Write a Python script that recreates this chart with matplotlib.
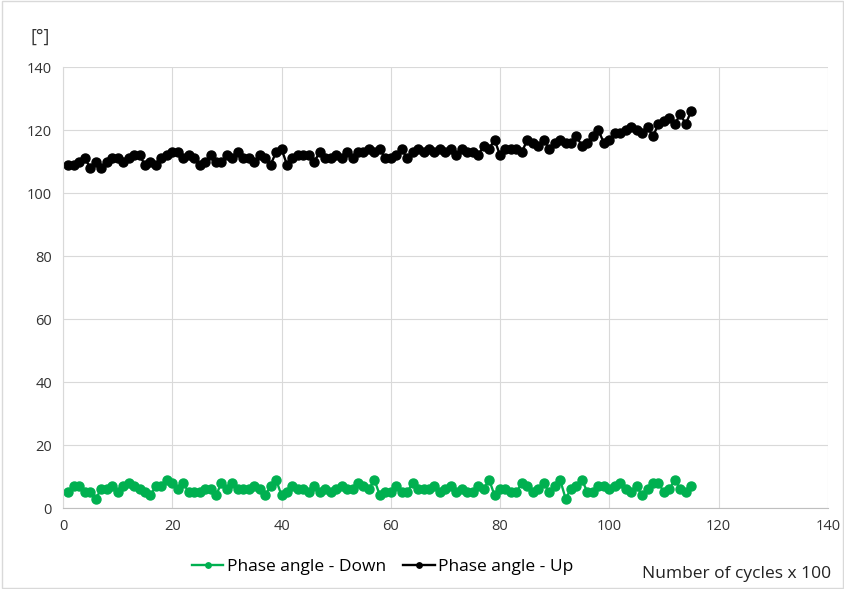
import matplotlib
matplotlib.use("Agg")
import matplotlib.pyplot as plt
from matplotlib.patches import Rectangle

plt.rcParams["font.family"] = ["Open Sans", "DejaVu Sans"]

cycles = list(range(1, 116))

phase_up = [
    109, 109, 110, 111, 108, 110, 108, 110, 111, 111,
    110, 111, 112, 112, 109, 110, 109, 111, 112, 113,
    113, 111, 112, 111, 109, 110, 112, 110, 110, 112,
    111, 113, 111, 111, 110, 112, 111, 109, 113, 114,
    109, 111, 112, 112, 112, 110, 113, 111, 111, 112,
    111, 113, 111, 113, 113, 114, 113, 114, 111, 111,
    112, 114, 111, 113, 114, 113, 114, 113, 114, 113,
    114, 112, 114, 113, 113, 112, 115, 114, 117, 112,
    114, 114, 114, 113, 117, 116, 115, 117, 114, 116,
    117, 116, 116, 118, 115, 116, 118, 120, 116, 117,
    119, 119, 120, 121, 120, 119, 121, 118, 122, 123,
    124, 122, 125, 122, 126,
]

phase_down = [
    5, 7, 7, 5, 5, 3, 6, 6, 7, 5,
    7, 8, 7, 6, 5, 4, 7, 7, 9, 8,
    6, 8, 5, 5, 5, 6, 6, 4, 8, 6,
    8, 6, 6, 6, 7, 6, 4, 7, 9, 4,
    5, 7, 6, 6, 5, 7, 5, 6, 5, 6,
    7, 6, 6, 8, 7, 6, 9, 4, 5, 5,
    7, 5, 5, 8, 6, 6, 6, 7, 5, 6,
    7, 5, 6, 5, 5, 7, 6, 9, 4, 6,
    6, 5, 5, 8, 7, 5, 6, 8, 5, 7,
    9, 3, 6, 7, 9, 5, 5, 7, 7, 6,
    7, 8, 6, 5, 7, 4, 6, 8, 8, 5,
    6, 9, 6, 5, 7,
]

fig = plt.figure(figsize=(8.45, 5.89), dpi=100)
fig.patches.append(Rectangle((0.002, 0.002), 0.996, 0.996, transform=fig.transFigure,
                             fill=False, edgecolor="#d9d9d9", linewidth=1))
ax = fig.add_axes([0.0746, 0.1375, 0.905, 0.7485])

ax.plot(cycles, phase_down, color="#00B050", marker="o", markersize=6.5,
        linewidth=1.7, label="Phase angle - Down")
ax.plot(cycles, phase_up, color="black", marker="o", markersize=6.5,
        linewidth=1.7, label="Phase angle - Up")

ax.set_xlim(0, 140)
ax.set_ylim(0, 140)
ax.set_xticks(range(0, 141, 20))
ax.set_yticks(range(0, 141, 20))
ax.grid(True, color="#d9d9d9", linewidth=0.8)
ax.set_axisbelow(True)
for side in ["top", "right"]:
    ax.spines[side].set_visible(False)
ax.spines["left"].set_color("#d9d9d9")
ax.spines["bottom"].set_color("#bfbfbf")
ax.tick_params(length=0, labelsize=10.5, colors="#333333", pad=8)

fig.text(0.048, 0.938, "[°]", fontsize=13, ha="center", va="center", color="#333333")
fig.text(0.983, 0.025, "Number of cycles x 100", fontsize=12.5, ha="right",
         va="center", color="#222222")

fig.legend(loc="center", bbox_to_anchor=(0.453, 0.037), ncol=2, frameon=False,
           fontsize=12.5, handlelength=1.8, handletextpad=0.2, columnspacing=1.0,
           markerscale=0.6)

fig.savefig("out.png", dpi=100)
